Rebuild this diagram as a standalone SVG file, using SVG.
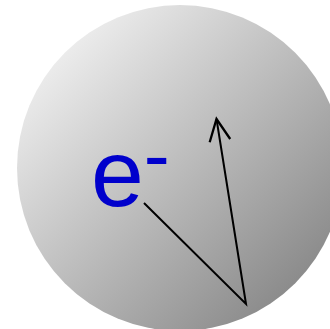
<svg xmlns="http://www.w3.org/2000/svg" width="330" height="329" viewBox="0 0 330 329">
  <style>
    .label { font-family: "Liberation Sans", Arial, sans-serif; fill: #0000cc; }
    .conn { fill: none; stroke: #000; stroke-width: 2; stroke-linejoin: miter; }
  </style>
  <defs>
    <linearGradient id="sphereGrad" x1="0" y1="0" x2="1" y2="1">
      <stop offset="0" stop-color="#ffffff"/>
      <stop offset="1" stop-color="#787878"/>
    </linearGradient>
    <marker id="openArrow" markerUnits="userSpaceOnUse" markerWidth="30" markerHeight="30" viewBox="-22 -12 26 24" refX="0" refY="0" orient="auto" overflow="visible">
      <path d="M-19,-9 L0,0 L-19,9" fill="none" stroke="#000" stroke-width="2"/>
    </marker>
  </defs>
  <rect width="330" height="329" fill="#ffffff"/>
  <g id="sphere">
    <circle cx="180" cy="168" r="163" fill="url(#sphereGrad)"/>
  </g>
  <g id="electron-label">
    <text class="label" x="91" y="206" font-size="95">e<tspan font-size="78" dy="-24">-</tspan></text>
  </g>
  <g id="connectors">
    <path class="conn" d="M144,203 L246,304 L216.5,119" marker-end="url(#openArrow)"/>
  </g>
</svg>
